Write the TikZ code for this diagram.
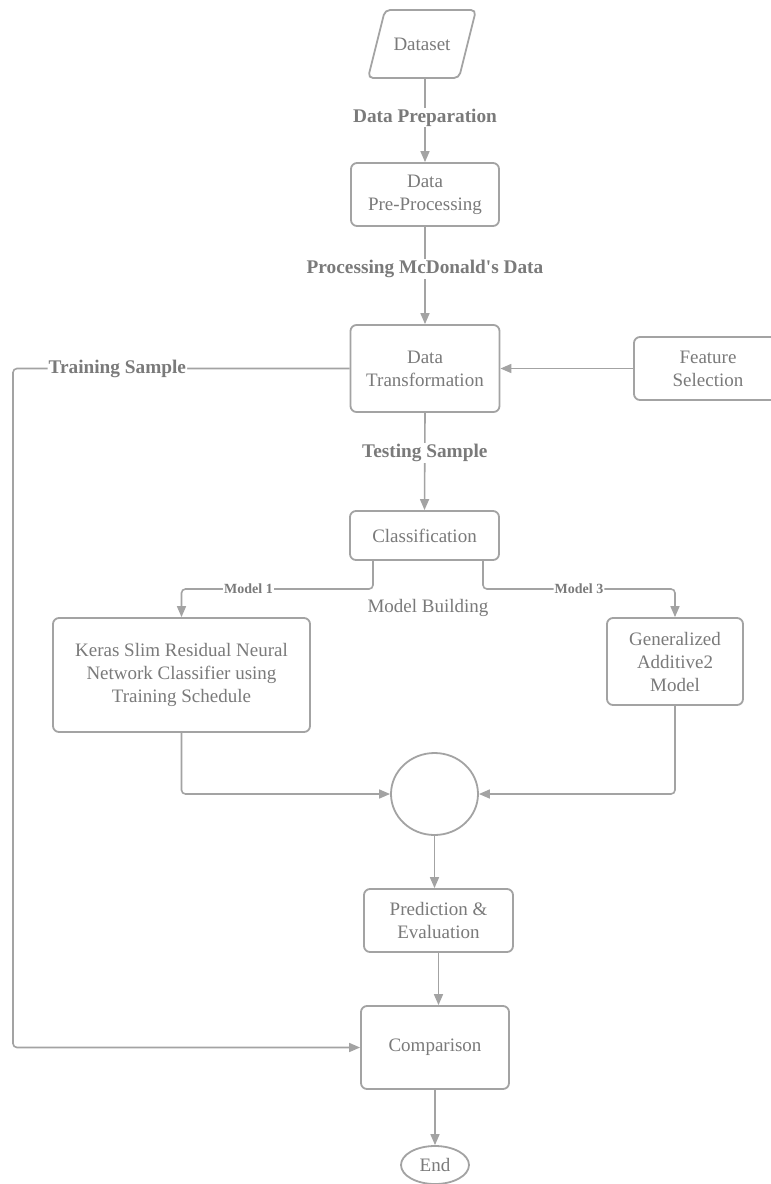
\documentclass[tikz,border=0pt]{standalone}
\usepackage{fontspec}
\setmainfont{Liberation Serif}
\usetikzlibrary{arrows.meta,shapes.geometric,calc}
\definecolor{linegray}{HTML}{A3A3A3}
\definecolor{textgray}{HTML}{7A7A7A}
\tikzset{
  box/.style={draw=linegray, line width=1.8pt, rounded corners=6pt, fill=white, align=center,
    text=textgray, font=\fontsize{19}{23}\selectfont, inner sep=0pt},
  conn/.style={draw=linegray, line width=1.6pt},
  arr/.style={conn, -{Triangle[length=11pt,width=9pt]}},
  lbl/.style={fill=white, text=textgray, font=\fontsize{19.3}{23}\selectfont\bfseries, inner sep=1pt},
  slbl/.style={fill=white, text=textgray, font=\fontsize{14}{16}\selectfont\bfseries, inner sep=1pt},
  plain/.style={text=textgray, font=\fontsize{19}{23}\selectfont, align=center}
}
\begin{document}
\begin{tikzpicture}[x=1pt,y=-1pt]
\useasboundingbox (0,0) rectangle (771,1184);
\clip (0,0) rectangle (771,1184);
\fill[white] (0,0) rectangle (771,1184);

% Dataset parallelogram
\draw[draw=linegray, line width=1.8pt, rounded corners=5pt] (385,10) -- (476,10) -- (459,78) -- (368,78) -- cycle;
\node[plain, minimum width=108pt, minimum height=68pt, inner sep=0pt] (data) at (422,44) {Dataset};

\node[box, minimum width=148pt, minimum height=63pt] (pre) at (425,194.5) {Data\\Pre-Processing};
\node[box, minimum width=149pt, minimum height=87pt] (trans) at (425,368.5) {Data\\Transformation};
\node[box, minimum width=148pt, minimum height=63pt] (feat) at (708,368.5) {Feature\\Selection};
\node[box, minimum width=149pt, minimum height=49pt] (class) at (424.5,535.5) {Classification};
\node[box, minimum width=257pt, minimum height=114pt] (keras) at (181.5,675) {Keras Slim Residual Neural\\Network Classifier using\\Training Schedule};
\node[box, minimum width=136pt, minimum height=87pt] (gen) at (675,661.5) {Generalized\\Additive2\\Model};
\node[draw=linegray, line width=1.8pt, ellipse, minimum width=87pt, minimum height=82pt, inner sep=0pt] (circ) at (434.5,794) {};
\node[box, minimum width=149pt, minimum height=63pt] (pred) at (438.5,920.5) {Prediction \&\\Evaluation};
\node[box, minimum width=148pt, minimum height=83pt] (comp) at (435,1047.5) {Comparison};
\node[box, ellipse, minimum width=68pt, minimum height=38pt] (end) at (435,1165) {End};

\node[plain] (mb) at (428,608) {Model Building};

% connectors
\draw[arr] (data.south -| pre.north) -- node[lbl, pos=0.47] {Data Preparation} (pre.north);
\draw[arr] (pre.south) -- node[lbl, pos=0.43] {Processing McDonald\textquotesingle s Data} (trans.north);
\draw[arr] (trans.south) -- node[lbl, pos=0.41] {Testing Sample} (class.north);
\draw[arr] (feat.west) -- (trans.east);
\coordinate (tl) at (13,368.5);
\coordinate (bl) at (13,1047.5);
\draw[arr, rounded corners=4pt] (trans.west) -- node[lbl, pos=0.69] {Training Sample} (tl) -- (bl) -- (comp.west);

\coordinate (m1a) at (373,589);
\coordinate (m1b) at (181.5,589);
\draw[arr, rounded corners=4pt] (class.south -| m1a) -- (m1a) -- node[slbl, pos=0.65] {Model 1} (m1b) -- (keras.north);
\coordinate (m3a) at (483,589);
\coordinate (m3b) at (675,589);
\draw[arr, rounded corners=4pt] (class.south -| m3a) -- (m3a) -- node[slbl, pos=0.5] {Model 3} (m3b) -- (gen.north);

\coordinate (k1) at (181.5,794);
\draw[arr, rounded corners=4pt] (keras.south) -- (k1) -- (circ.west);
\coordinate (g1) at (675,794);
\draw[arr, rounded corners=4pt] (gen.south) -- (g1) -- (circ.east);

\draw[arr] (circ.south) -- (circ.south |- pred.north);
\draw[arr] (pred.south) -- (pred.south |- comp.north);
\draw[arr] (comp.south) -- (end.north);
\end{tikzpicture}
\end{document}
